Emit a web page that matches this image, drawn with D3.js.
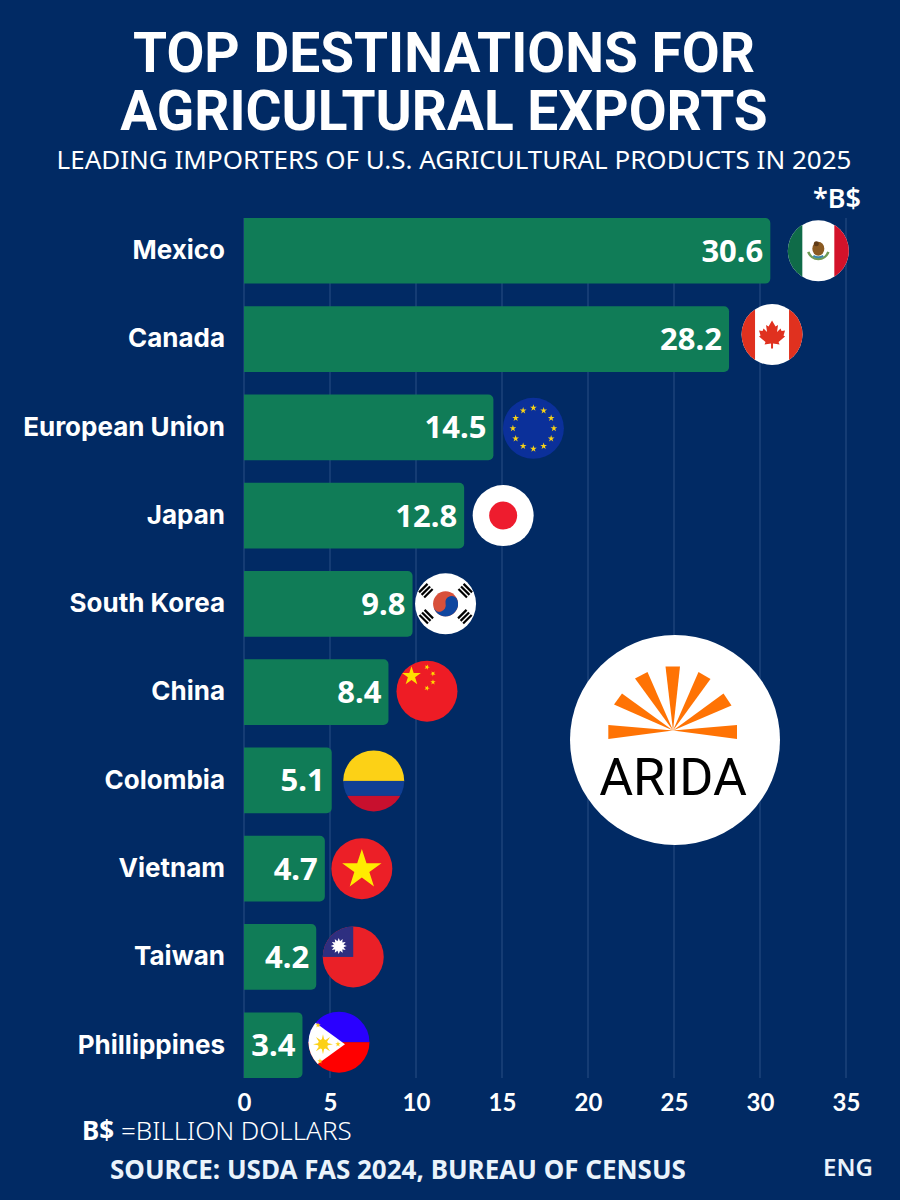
<!DOCTYPE html>
<html>
<head>
<meta charset="utf-8">
<script src="https://cdn.jsdelivr.net/npm/d3@7"></script>
<style>
  body { margin: 0; background: #012a64; }
  svg { display: block; }
  text { fill: #fff; }
  .cat { font: 700 26px "Inter", sans-serif; }
  .val { font: 700 31px "Noto Sans", sans-serif; }
  .tick-label { font: 700 24px "Lato", sans-serif; }
</style>
</head>
<body>
<div id="chart"></div>
<script>
// chart data
let countries = ["Mexico", "Canada", "European Union", "Japan", "South Korea", "China", "Colombia", "Vietnam", "Taiwan", "Phillippines"]
let values = [30.6, 28.2, 14.5, 12.8, 9.8, 8.4, 5.1, 4.7, 4.2, 3.4]
let xTicks = [0, 5, 10, 15, 20, 25, 30, 35]

// gap from the end of each bar to the centre of its flag
let flagGap = [48, 43, 40, 39, 33, 38.5, 42, 37, 37, 36.5]
let flagR = 30.5

let width = 900
let height = 1200
let bg = "#012a64"

let svg = d3.select("#chart").append("svg")
  .attr("width", width)
  .attr("height", height)

svg.append("rect").attr("width", width).attr("height", height).attr("fill", bg)

let xScale = d3.scaleLinear().domain([0, 35]).range([244, 846])
let yScale = d3.scaleBand().domain(countries).range([218, 1078]).paddingInner(0.2566)

// -- titles
function addText(str, x, y, size, weight, family, anchor) {
  return svg.append("text")
    .attr("x", x).attr("y", y)
    .attr("text-anchor", anchor || "start")
    .style("font-family", family)
    .style("font-size", size + "px")
    .style("font-weight", weight)
    .text(str)
}
addText("TOP DESTINATIONS FOR", 444, 72, 55, 700, "Roboto", "middle")
addText("AGRICULTURAL EXPORTS", 444, 130, 55, 700, "Roboto", "middle")
addText("LEADING IMPORTERS OF U.S. AGRICULTURAL PRODUCTS IN 2025", 454, 169, 26, 400, "Noto Sans", "middle")
addText("*B$", 837, 208, 27, 600, "Noto Sans", "middle")

// -- grid + x axis
let xAxis = d3.axisBottom(xScale).tickValues(xTicks).tickSize(0).tickPadding(0)
let xG = svg.append("g").attr("transform", "translate(0, 1111)").call(xAxis)
xG.select(".domain").remove()
xG.selectAll("text").attr("class", "tick-label").attr("dy", 0).attr("y", 0)

svg.append("g").selectAll("line")
  .data(xTicks)
  .enter().append("line")
  .attr("x1", d => xScale(d)).attr("x2", d => xScale(d))
  .attr("y1", 218).attr("y2", 1078)
  .attr("stroke", "#2b4e84")
  .attr("stroke-width", 1)

// -- category labels
let yAxis = d3.axisLeft(yScale).tickSize(0).tickPadding(0)
let yG = svg.append("g").attr("transform", "translate(225, 0)").call(yAxis)
yG.select(".domain").remove()
yG.selectAll("text").attr("class", "cat").attr("dy", "0.32em")

// -- bars, square on the left and rounded on the right
function barPath(x0, x1, y0, y1, r) {
  let p = d3.path()
  p.moveTo(x0, y0)
  p.lineTo(x1 - r, y0)
  p.arcTo(x1, y0, x1, y0 + r, r)
  p.lineTo(x1, y1 - r)
  p.arcTo(x1, y1, x1 - r, y1, r)
  p.lineTo(x0, y1)
  p.closePath()
  return p.toString()
}

let rows = countries.map((c, i) => ({ name: c, value: values[i], gap: flagGap[i] }))

svg.append("g").selectAll("path")
  .data(rows)
  .enter().append("path")
  .attr("d", d => barPath(xScale(0), xScale(d.value), yScale(d.name), yScale(d.name) + yScale.bandwidth(), 5))
  .attr("fill", "#107c57")

svg.append("g").selectAll("text")
  .data(rows)
  .enter().append("text")
  .attr("class", "val")
  .attr("x", d => xScale(d.value) - 7)
  .attr("y", d => yScale(d.name) + yScale.bandwidth() / 2 + 11)
  .attr("text-anchor", "end")
  .text(d => d.value.toFixed(1))

// -- flags
let defs = svg.append("defs")
let star = (size) => d3.symbol().type(d3.symbolStar).size(size)()

function box(g, x, y, w, h, fill) {
  g.append("rect").attr("x", x).attr("y", y).attr("width", w).attr("height", h).attr("fill", fill)
}
function addStar(g, x, y, size, fill, rot) {
  g.append("path").attr("d", star(size)).attr("fill", fill)
    .attr("transform", `translate(${x},${y}) rotate(${rot || 0})`)
}

let flags = {
  "Mexico": g => {
    box(g, -40, -40, 80, 80, "#fff")
    box(g, -40, -40, 24, 80, "#0f6b48")
    box(g, 16, -40, 24, 80, "#d3122a")
    g.append("path").attr("d", "M-10,1 A10.5,10.5 0 0 0 10,1").attr("fill", "none").attr("stroke", "#6f9a55").attr("stroke-width", 2.5)
    g.append("ellipse").attr("cx", 0).attr("cy", -2).attr("rx", 6).attr("ry", 7).attr("fill", "#8a5a22")
    g.append("circle").attr("cx", -2).attr("cy", -7).attr("r", 2.5).attr("fill", "#5e3a16")
    g.append("path").attr("d", "M-5,5 Q0,8 5,5").attr("fill", "none").attr("stroke", "#3b87a8").attr("stroke-width", 2)
  },
  "Canada": g => {
    box(g, -40, -40, 80, 80, "#fff")
    box(g, -40, -40, 23, 80, "#e0311f")
    box(g, 17, -40, 23, 80, "#e0311f")
    g.append("path").attr("fill", "#e0311f")
      .attr("d", "M0,-14 L3.5,-8 L6,-9.5 L5,-2.5 L8.5,-6 L9.5,-3.5 L13,-4 L11.5,1 L13,2 L6.5,7.5 L7.5,10 L1,9 L1,14 L-1,14 L-1,9 L-7.5,10 L-6.5,7.5 L-13,2 L-11.5,1 L-13,-4 L-9.5,-3.5 L-8.5,-6 L-5,-2.5 L-6,-9.5 L-3.5,-8 Z")
  },
  "European Union": g => {
    box(g, -40, -40, 80, 80, "#0b309a")
    d3.range(12).forEach(i => {
      let a = i / 12 * 2 * Math.PI
      addStar(g, 20.5 * Math.sin(a), -20.5 * Math.cos(a), 14, "#f7d117")
    })
  },
  "Japan": g => {
    box(g, -40, -40, 80, 80, "#fff")
    g.append("circle").attr("r", 14).attr("fill", "#ee1c2e")
  },
  "South Korea": g => {
    box(g, -40, -40, 80, 80, "#fff")
    g.append("circle").attr("r", 12.5).attr("fill", "#d8503a")
    g.append("path").attr("fill", "#10469f")
      .attr("d", "M-12.5,0 A12.5,12.5 0 0 0 12.5,0 A6.25,6.25 0 0 0 0,0 A6.25,6.25 0 0 1 -12.5,0 Z")
      .attr("transform", "rotate(-15)")
    let corners = [[-19.5, -13, -45], [19.5, -13, 45], [-19.5, 13, 45], [19.5, 13, -45]]
    corners.forEach(c => {
      let t = g.append("g").attr("transform", `translate(${c[0]},${c[1]}) rotate(${c[2]})`)
      d3.range(3).forEach(k => box(t, -6, -5 + k * 3.6, 12, 2.2, "#000"))
    })
  },
  "China": g => {
    box(g, -40, -40, 80, 80, "#ee1c25")
    addStar(g, -15.5, -15, 110, "#ffde00")
    addStar(g, 0, -24, 9, "#ffde00", 20)
    addStar(g, 6, -17.5, 9, "#ffde00", 40)
    addStar(g, 6, -9, 9, "#ffde00", 0)
    addStar(g, 0, -3, 9, "#ffde00", 20)
  },
  "Colombia": g => {
    box(g, -40, -40, 80, 40.5, "#fcd116")
    box(g, -40, 0, 80, 15, "#103f94")
    box(g, -40, 15, 80, 25, "#c8102e")
  },
  "Vietnam": g => {
    box(g, -40, -40, 80, 80, "#ec1f27")
    addStar(g, 0, 1, 480, "#ffec00")
  },
  "Taiwan": g => {
    box(g, -40, -40, 80, 80, "#ea2027")
    box(g, -40, -40, 40, 40, "#2e2f80")
    let sun = g.append("g").attr("transform", "translate(-14.5,-11)")
    d3.range(12).forEach(i => {
      sun.append("path").attr("d", "M-1.6,-4 L0,-8 L1.6,-4 Z").attr("fill", "#fff").attr("transform", `rotate(${i * 30})`)
    })
    sun.append("circle").attr("r", 4.6).attr("fill", "#fff")
  },
  "Phillippines": g => {
    box(g, -40, -40, 80, 40, "#2a00ff")
    box(g, -40, 0, 80, 40, "#ff0000")
    g.append("path").attr("d", "M-38,-30 L6,2 L-38,34 Z").attr("fill", "#fff")
    let sun = g.append("g").attr("transform", "translate(-16,2)")
    d3.range(8).forEach(i => {
      sun.append("path").attr("d", "M-1.3,-4 L0,-10 L1.3,-4 Z").attr("fill", "#fcd116").attr("transform", `rotate(${i * 45})`)
    })
    sun.append("circle").attr("r", 5).attr("fill", "#fcd116")
    addStar(g, -21, -17, 9, "#fcd116")
    addStar(g, -1, 2, 9, "#fcd116")
    addStar(g, -19, 19, 9, "#fcd116")
  }
}

// small vertical nudges, the flags do not sit exactly on the bars' centre line
let flagDy = [0, -4.5, 1, 0, 0, -1, 0.5, 0, 0, -3]

rows.forEach((d, i) => {
  let id = "clip" + i
  defs.append("clipPath").attr("id", id).append("circle").attr("r", flagR)
  let g = svg.append("g")
    .attr("transform", `translate(${xScale(d.value) + d.gap},${yScale(d.name) + yScale.bandwidth() / 2 + flagDy[i]})`)
    .attr("clip-path", `url(#${id})`)
  flags[d.name](g)
})

// -- logo
let logo = svg.append("g").attr("transform", "translate(675, 740)")
logo.append("circle").attr("r", 105).attr("fill", "#fff")
let rays = [
  [[-64.7, -5.5], [-64.7, 8.5]],
  [[-59, -26], [-51, -37]],
  [[-38, -52], [-25.5, -58.5]],
  [[-7.5, -64], [7, -64]],
  [[25.5, -58.5], [37.5, -51.5]],
  [[50.5, -37], [58.5, -25]],
  [[64, -5.5], [64, 8.5]]
]
logo.append("g").selectAll("path")
  .data(rays)
  .enter().append("path")
  .attr("d", d => `M-2,-9.5 L${d[0][0] - 2},${d[0][1] - 9.5} L${d[1][0] - 2},${d[1][1] - 9.5} Z`)
  .attr("fill", "#ff7304")
logo.append("text")
  .attr("x", -2).attr("y", 55)
  .attr("text-anchor", "middle")
  .style("font-family", "Roboto")
  .style("font-size", "52px")
  .style("fill", "#000")
  .text("ARIDA")

// -- footer
let note = addText("", 82, 1140, 26, 400, "Noto Sans")
note.append("tspan").style("font-weight", 700).text("B$ ")
note.append("tspan").style("font-weight", 300).text("=BILLION DOLLARS")
addText("SOURCE: USDA FAS 2024, BUREAU OF CENSUS", 110, 1179, 26, 700, "Noto Sans").style("fill", "#eaf3fb")
addText("ENG", 823, 1176, 24, 600, "Noto Sans").style("fill", "#eaf3fb")
</script>
</body>
</html>
